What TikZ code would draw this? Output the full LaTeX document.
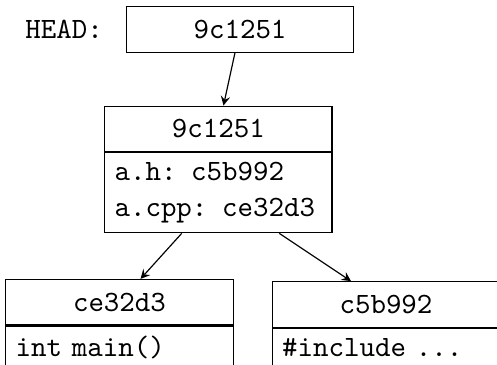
\documentclass[tikz,border=0pt]{standalone}
\usepackage{tikz}
\usetikzlibrary{positioning}

\begin{document}
\begin{tikzpicture}[>=stealth, font=\ttfamily,
  objhead/.style={draw, minimum width=2.71cm, minimum height=0.542cm},
  objbody/.style={draw, text width=2.475cm, align=left}]
\useasboundingbox (0,0) rectangle (5.924,-4.339);
% HEAD reference
\node[objhead] (head) at (2.861,-0.352) {9c1251};
\node[left=1.5mm of head] (headlabel) {HEAD:};
% commit and its tree
\node[objhead] (commit) at (2.603,-1.536) {9c1251};
\node[objbody, below=0pt of commit] (tree) {a.h: c5b992\\a.cpp: ce32d3};
% blobs
\node[objhead] (cppblob) at (1.424,-3.602) {ce32d3};
\node[objbody, below=0pt of cppblob] (cppbody) {int main()};
\node[objhead] (hblob) at (4.601,-3.629) {c5b992};
\node[objbody, below=0pt of hblob] (hbody) {\#include ...};
\draw[->] (head) -- (commit);
\draw[->] (tree) -- (cppblob);
\draw[->] (tree) -- (hblob);
\end{tikzpicture}
\end{document}
